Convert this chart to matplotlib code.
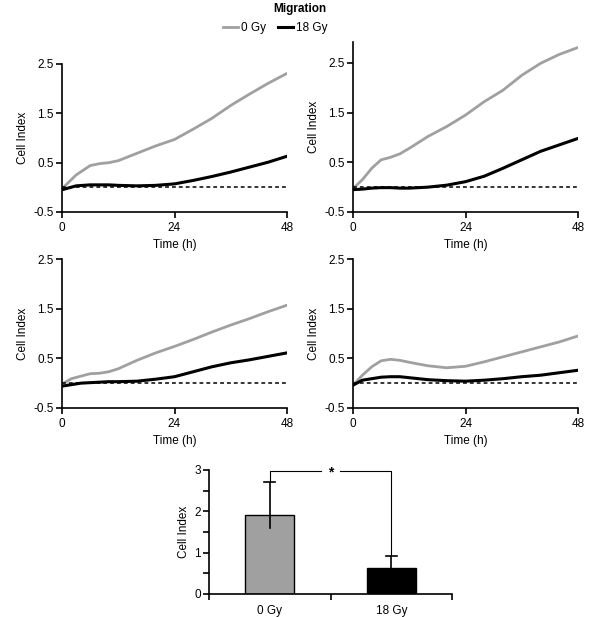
import matplotlib
matplotlib.use("Agg")
import matplotlib.pyplot as plt
from matplotlib.lines import Line2D

plt.rcParams['font.family'] = ['Liberation Sans', 'DejaVu Sans']
plt.rcParams['font.size'] = 8

# ---- data ----
time_a = [0, 3, 6, 8, 10, 12, 16, 20, 24, 28, 32, 36, 40, 44, 48]
p1_gray = [-0.03, 0.25, 0.44, 0.48, 0.50, 0.54, 0.69, 0.84, 0.97, 1.18, 1.40, 1.66, 1.89, 2.11, 2.31]
p1_black = [-0.05, 0.03, 0.05, 0.05, 0.05, 0.04, 0.03, 0.04, 0.07, 0.14, 0.22, 0.31, 0.41, 0.51, 0.63]

time_b = [0, 2, 4, 6, 8, 10, 12, 16, 20, 24, 28, 32, 36, 40, 44, 48]
p2_gray = [-0.03, 0.15, 0.38, 0.55, 0.60, 0.67, 0.78, 1.02, 1.22, 1.45, 1.72, 1.95, 2.25, 2.49, 2.67, 2.81]
p2_black = [-0.05, -0.04, -0.02, -0.01, -0.01, -0.02, -0.02, 0.0, 0.04, 0.11, 0.22, 0.38, 0.55, 0.72, 0.85, 0.98]

p3_gray = [-0.02, 0.09, 0.14, 0.19, 0.20, 0.23, 0.29, 0.46, 0.61, 0.74, 0.88, 1.03, 1.17, 1.30, 1.44, 1.57]
p3_black = [-0.06, -0.03, 0.0, 0.01, 0.02, 0.03, 0.03, 0.04, 0.08, 0.13, 0.23, 0.33, 0.41, 0.47, 0.54, 0.61]

p4_gray = [-0.04, 0.16, 0.33, 0.45, 0.48, 0.46, 0.42, 0.35, 0.31, 0.34, 0.43, 0.53, 0.63, 0.73, 0.83, 0.95]
p4_black = [-0.04, 0.06, 0.09, 0.12, 0.13, 0.13, 0.11, 0.07, 0.05, 0.04, 0.06, 0.09, 0.13, 0.16, 0.21, 0.26]

groups = ['0 Gy', '18 Gy']
bar_means = [1.92, 0.63]
bar_err_low = [1.60, 0.63]
bar_err_high = [2.72, 0.92]

x_ticks = [0, 24, 48]
y_ticks = [-0.5, 0.5, 1.5, 2.5]

GRAY = '#a0a0a0'
W, H = 600, 617
fig = plt.figure(figsize=(6, 6.17), dpi=100)


def ax_at(x0, x1, ytop, ybot):
    return fig.add_axes([x0 / W, 1 - ybot / H, (x1 - x0) / W, (ybot - ytop) / H])


def style(ax):
    for s in ['top', 'right']:
        ax.spines[s].set_visible(False)
    for s in ['left', 'bottom']:
        ax.spines[s].set_linewidth(1.2)
    ax.tick_params(direction='out', length=4, width=1.2, labelsize=8.5, pad=2)


panels = [
    (62, 287, 64, 212, (-0.5, 2.5), time_a, p1_gray, p1_black),
    (353, 578, 42, 212, (-0.5, 2.92), time_b, p2_gray, p2_black),
    (62, 287, 259, 408, (-0.5, 2.5), time_b, p3_gray, p3_black),
    (353, 578, 259, 408, (-0.5, 2.5), time_b, p4_gray, p4_black),
]

for x0, x1, yt, yb, ylim, t, g, b in panels:
    ax = ax_at(x0, x1, yt, yb)
    style(ax)
    ax.plot(t, g, color=GRAY, lw=2.0, solid_capstyle='round')
    ax.plot(t, b, color='black', lw=2.2, solid_capstyle='round')
    ax.plot([0, 48], [0, 0], color='black', lw=1.1, linestyle=(0, (2.5, 2)))
    ax.set_xlim(0, 48)
    ax.set_ylim(*ylim)
    ax.set_xticks(x_ticks)
    ax.set_yticks(y_ticks)
    ax.set_yticklabels(['-0.5', '0.5', '1.5', '2.5'])
    ax.tick_params(axis='x', pad=3.5)
    ax.set_xlabel('Time (h)', fontsize=8.5, labelpad=3)
    ax.set_ylabel('Cell Index', fontsize=8.5, labelpad=3)

# legend / title
fig.text(300 / W, 1 - 9 / H, 'Migration', ha='center', va='center', fontsize=8.5, fontweight='bold')
handles = [Line2D([], [], color=GRAY, lw=2.0), Line2D([], [], color='black', lw=2.2)]
fig.legend(handles, groups, loc='center', bbox_to_anchor=(275 / W, 1 - 28 / H), ncol=2,
           frameon=False, fontsize=8.5, handlelength=1.3, handletextpad=0.25, columnspacing=1.0,
           borderaxespad=0)

# bar chart
axb = ax_at(209, 452, 470, 594)
style(axb)
xs = [0, 1]
axb.bar(xs, bar_means, width=0.4, color=[GRAY, 'black'], edgecolor='black', linewidth=1.0, zorder=2)
for x, lo, m, hi in zip(xs, bar_err_low, bar_means, bar_err_high):
    axb.plot([x, x], [lo, hi], color='black', lw=1.2, zorder=3)
    axb.plot([x - 0.045, x + 0.045], [hi, hi], color='black', lw=1.2, zorder=3)
axb.set_xlim(-0.5, 1.5)
axb.set_ylim(0, 3)
axb.set_yticks([0, 1, 2, 3])
axb.set_yticks([0.5, 1.5, 2.5], minor=True)
axb.tick_params(axis='y', which='minor', direction='out', length=4, width=1.2)
axb.set_xticks([-0.5, 0.5, 1.5])
axb.set_xticklabels(['', '', ''])
axb.set_xticks(xs, minor=True)
axb.set_xticklabels(groups, minor=True)
axb.tick_params(axis='x', which='minor', length=0, labelsize=8.5, pad=8)
axb.set_ylabel('Cell Index', fontsize=8.5, labelpad=3)

# significance bracket
yb = 2.97
axb.plot([0, 0, 0.42], [bar_err_high[0] + 0.03, yb, yb], color='black', lw=0.8, clip_on=False)
axb.plot([0.58, 1, 1], [yb, yb, bar_err_high[1] + 0.03], color='black', lw=0.8, clip_on=False)
axb.text(0.5, yb - 0.02, '*', ha='center', va='center', fontsize=10, fontweight='bold')

fig.savefig('out.png', dpi=100)
